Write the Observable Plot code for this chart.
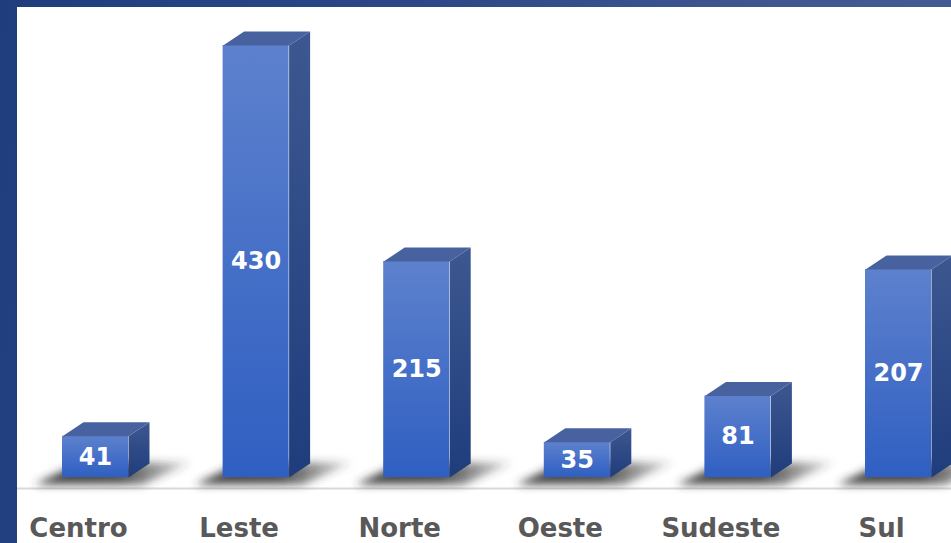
<!DOCTYPE html>
<html>
<head>
<meta charset="utf-8">
<script src="https://cdn.jsdelivr.net/npm/d3@7"></script>
<script src="https://cdn.jsdelivr.net/npm/@observablehq/plot@0.6"></script>
<style>
  html, body { margin: 0; padding: 0; }
  body {
    width: 951px; height: 543px; position: relative; overflow: hidden;
    background: linear-gradient(100deg, #1f3d7d 0%, #2c4886 40%, #405891 75%, #445d96 100%);
  }
  #panel { position: absolute; left: 17px; top: 7px; right: 0; bottom: 0; background: #ffffff; }
  #chart { position: absolute; left: 0; top: 0; }
</style>
</head>
<body>
<svg width="1" height="1" style="position:absolute;left:0;top:0">
  <defs>
    <linearGradient id="frontGrad" x1="0" y1="0" x2="0" y2="1">
      <stop offset="0" stop-color="#5d81cd"/>
      <stop offset="1" stop-color="#2f5fc2"/>
    </linearGradient>
    <linearGradient id="sideGrad" x1="0" y1="0" x2="0" y2="1">
      <stop offset="0" stop-color="#3d5890"/>
      <stop offset="1" stop-color="#1f3c7c"/>
    </linearGradient>
    <linearGradient id="shadowGrad" x1="0" y1="0" x2="1" y2="0">
      <stop offset="0" stop-color="#333333" stop-opacity="0.9"/>
      <stop offset="0.55" stop-color="#333333" stop-opacity="0.85"/>
      <stop offset="1" stop-color="#333333" stop-opacity="0.15"/>
    </linearGradient>
    <filter id="shadowBlur" x="-50%" y="-100%" width="200%" height="300%">
      <feGaussianBlur stdDeviation="4.5"/>
    </filter>
  </defs>
</svg>
<div id="panel"></div>
<div id="chart"></div>
<script>
const categories = ["Centro", "Leste", "Norte", "Oeste", "Sudeste", "Sul"];
const values = [41, 430, 215, 35, 81, 207];

const data = categories.map((name, i) => ({name, i, v: values[i]}));

// pixel -> data unit conversions for the 3D geometry
const X0 = 95, X1 = 898, Y0 = 477, Ytop = 45;
const ux = (categories.length - 1) / (X1 - X0);
const uy = 430 / (Y0 - Ytop);
const hw = 33 * ux, ddx = 21 * ux, ddy = 14 * uy;

const sideFaces = data.flatMap(d => [
  {name: d.name, x: d.i + hw, y: 0},
  {name: d.name, x: d.i + hw + ddx, y: ddy},
  {name: d.name, x: d.i + hw + ddx, y: d.v + ddy},
  {name: d.name, x: d.i + hw, y: d.v}
]);
const topFaces = data.flatMap(d => [
  {name: d.name, x: d.i - hw, y: d.v},
  {name: d.name, x: d.i - hw + ddx, y: d.v + ddy},
  {name: d.name, x: d.i + hw + ddx, y: d.v + ddy},
  {name: d.name, x: d.i + hw, y: d.v}
]);
const shadows = data.flatMap(d => [
  {name: d.name, x: d.i - hw - 28 * ux, y: -7 * uy},
  {name: d.name, x: d.i + hw + 14 * ux, y: -7 * uy},
  {name: d.name, x: d.i + hw + ddx + 42 * ux, y: ddy + 1 * uy},
  {name: d.name, x: d.i - hw + ddx - 4 * ux, y: ddy + 1 * uy}
]);

const plot = Plot.plot({
  width: 951,
  height: 543,
  marginLeft: 17,
  marginRight: 0,
  marginTop: 7,
  marginBottom: 0,
  style: {background: "transparent", fontFamily: "DejaVu Sans"},
  x: {type: "linear", domain: [0, categories.length - 1], range: [X0, X1], axis: null},
  y: {type: "linear", domain: [0, 430], range: [Y0, Ytop], axis: null},
  marks: [
    Plot.ruleY([0], {dy: 11, stroke: "#d9d9d9", strokeWidth: 2}),
    Plot.line(shadows, {x: "x", y: "y", z: "name", fill: "url(#shadowGrad)", stroke: "none"}),
    Plot.rect(data, {x1: d => d.i - hw, x2: d => d.i + hw, y1: 0, y2: "v", fill: "url(#frontGrad)"}),
    Plot.line(sideFaces, {x: "x", y: "y", z: "name", fill: "url(#sideGrad)", stroke: "none"}),
    Plot.line(topFaces, {x: "x", y: "y", z: "name", fill: "#4862a0", stroke: "none"}),
    Plot.text(data, {x: "i", y: d => d.v / 2, text: d => String(d.v), fill: "white", fontSize: 24, fontWeight: "bold", fontFamily: "DejaVu Sans"}),
    Plot.text(data, {x: "i", y: 0, dx: -17, dy: 51, text: "name", fill: "#595959", fontSize: 26, fontWeight: "bold", fontFamily: "DejaVu Sans"})
  ]
});
d3.select(plot).selectAll("[fill='url(#shadowGrad)']").attr("filter", "url(#shadowBlur)");
document.getElementById("chart").appendChild(plot);
</script>
</body>
</html>
